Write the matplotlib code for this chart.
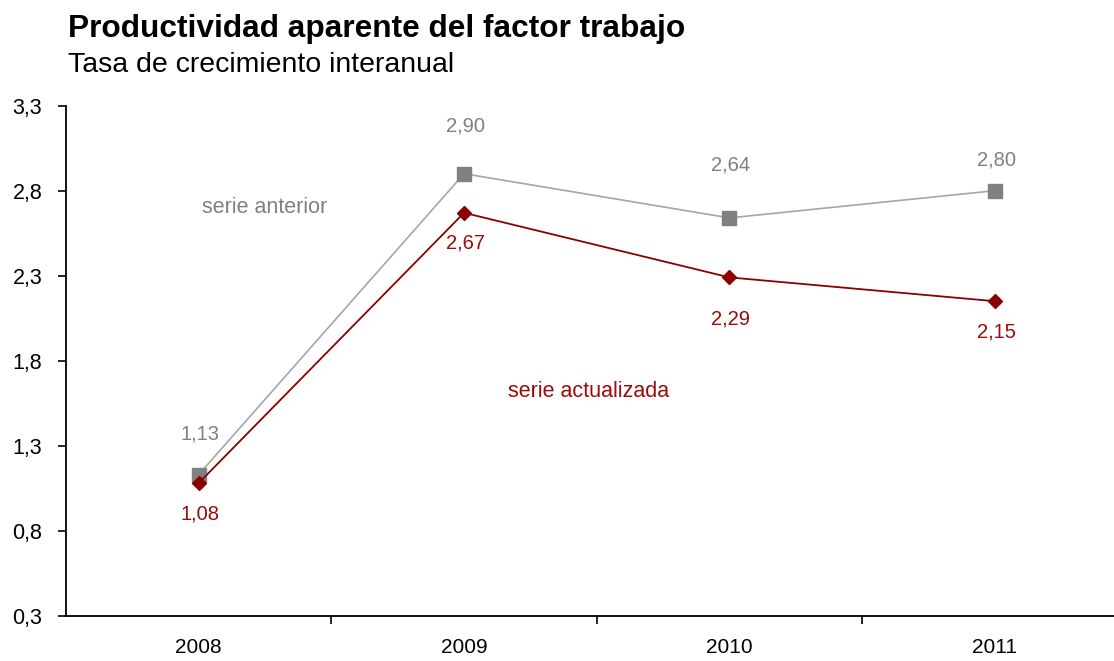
import matplotlib
matplotlib.use("Agg")
from matplotlib import pyplot as plt

# Data
years = ["2008", "2009", "2010", "2011"]
serie_anterior = [1.13, 2.90, 2.64, 2.80]
serie_actualizada = [1.08, 2.67, 2.29, 2.15]
y_ticks = [0.3, 0.8, 1.3, 1.8, 2.3, 2.8, 3.3]

plt.rcParams["font.family"] = ["Liberation Sans", "DejaVu Sans"]

GRAY_LINE = "#a6a6a6"
GRAY_MARK = "#808080"
GRAY_TEXT = "#808080"
RED = "#8b0000"
RED_TEXT = "#9c0a0a"

fig = plt.figure(figsize=(11.14, 6.61), dpi=100)
ax = fig.add_axes([0.0592, 0.0685, 0.953, 0.7716])

x = list(range(len(years)))
ax.plot(x, serie_anterior, color=GRAY_LINE, lw=1.2, marker="s", ms=10,
        mfc=GRAY_MARK, mec=GRAY_MARK, zorder=2)
ax.plot(x, serie_actualizada, color=RED, lw=1.3, marker="D", ms=7,
        mfc=RED, mec=RED, zorder=3)

# data labels, vertical offsets in points
off_ant = [29, 34, 38, 22]
off_act = [-22, -22, -30, -22]
for i, v in enumerate(serie_anterior):
    ax.annotate(f"{v:.2f}".replace(".", ","), (i, v), xytext=(1, off_ant[i]),
                textcoords="offset points", ha="center", va="center",
                fontsize=14.5, color=GRAY_TEXT)
for i, v in enumerate(serie_actualizada):
    ax.annotate(f"{v:.2f}".replace(".", ","), (i, v), xytext=(1, off_act[i]),
                textcoords="offset points", ha="center", va="center",
                fontsize=14.5, color=RED_TEXT)

ax.text(0.25, 2.70, "serie anterior", ha="center", va="center",
        fontsize=15.5, color=GRAY_TEXT)
ax.text(1.47, 1.62, "serie actualizada", ha="center", va="center",
        fontsize=15.5, color=RED_TEXT)

ax.set_xlim(-0.5, len(years) - 0.5)
ax.set_ylim(0.3, 3.3)
ax.set_yticks(y_ticks)
ax.set_yticklabels([f"{t:.1f}".replace(".", ",") for t in y_ticks])
ax.set_xticks(x)
ax.set_xticklabels(years)
ax.set_xticks([i + 0.5 for i in x[:-1]], minor=True)
ax.tick_params(axis="x", which="major", length=0, pad=16, labelsize=15)
ax.tick_params(axis="x", which="minor", length=6, width=1.2, color="black")
ax.tick_params(axis="y", length=6, width=1.2, pad=11, labelsize=15.5)

for s in ["top", "right"]:
    ax.spines[s].set_visible(False)
for s in ["left", "bottom"]:
    ax.spines[s].set_linewidth(1.3)

fig.text(0.061, 0.9436, "Productividad aparente del factor trabajo",
         fontsize=22.8, fontweight="bold", ha="left", va="baseline")
fig.text(0.061, 0.8915, "Tasa de crecimiento interanual",
         fontsize=20.5, ha="left", va="baseline")

fig.savefig("out.png", dpi=100)
